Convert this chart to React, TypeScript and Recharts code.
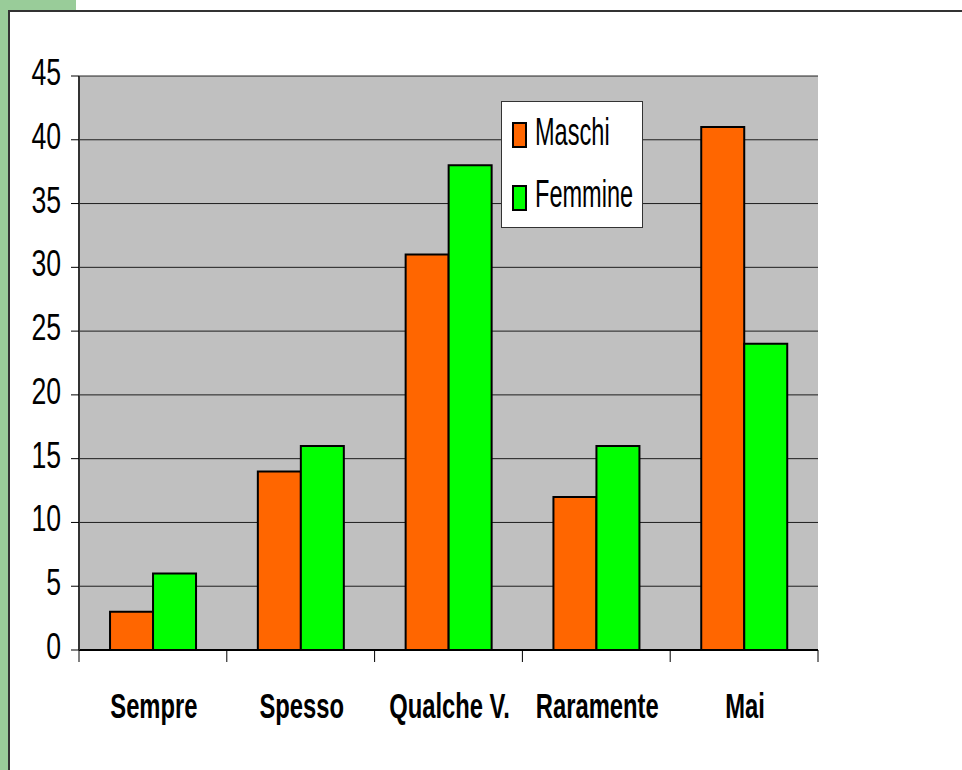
import React from 'react';
import { BarChart, Bar, XAxis, YAxis, CartesianGrid, Legend } from 'recharts';

// Survey answers, counts per group
const categories = ['Sempre', 'Spesso', 'Qualche V.', 'Raramente', 'Mai'];
const maschi = [3, 14, 31, 12, 41];
const femmine = [6, 16, 38, 16, 24];
const yTicks = [0, 5, 10, 15, 20, 25, 30, 35, 40, 45];
const seriesNames = ['Maschi', 'Femmine'];
const seriesColors = ['#FF6600', '#00FF00'];

const data = categories.map((name, i) => ({ name, maschi: maschi[i], femmine: femmine[i] }));

// no Arial Narrow available, so squeeze Liberation Sans horizontally
const FONT = '"Liberation Sans", Arial, sans-serif';

const W = 962;
const H = 770;
const margin = { top: 76, right: 144, left: 9, bottom: 60 };
const Y_AXIS_W = 70;
const X_AXIS_H = 60;
const bandWidth = (W - margin.left - margin.right - Y_AXIS_W) / categories.length;

const XTick = (props: any) => {
  const { x, y, payload, index } = props;
  return (
    <g>
      <line x1={x - bandWidth / 2} x2={x - bandWidth / 2} y1={y} y2={y + 12} stroke="#000" />
      {index === categories.length - 1 && (
        <line x1={x + bandWidth / 2} x2={x + bandWidth / 2} y1={y} y2={y + 12} stroke="#000" />
      )}
      <text
        transform={`translate(${x + 1},${y + 68}) scale(0.68,1)`}
        textAnchor="middle"
        fontFamily={FONT}
        fontWeight="bold"
        fontSize={35}
        fill="#000"
      >
        {payload.value}
      </text>
    </g>
  );
};

const YTick = (props: any) => {
  const { x, y, payload } = props;
  return (
    <text
      transform={`translate(${x},${y + 9}) scale(0.72,1)`}
      textAnchor="end"
      fontFamily={FONT}
      fontSize={37}
      fill="#000"
    >
      {payload.value}
    </text>
  );
};

const LegendBox = () => (
  <svg width={142} height={127} style={{ display: 'block' }}>
    <rect x={0.5} y={0.5} width={141} height={126} fill="#fff" stroke="#333" />
    {seriesNames.map((label, i) => (
      <g key={label}>
        <rect x={12} y={22 + i * 63} width={13} height={24} fill={seriesColors[i]} stroke="#000" strokeWidth={2} />
        <text transform={`translate(34,${44 + i * 62}) scale(0.62,1)`} fontFamily={FONT} fontSize={38} fill="#000">
          {label}
        </text>
      </g>
    ))}
  </svg>
);

export default function App() {
  return (
    <div style={{ position: 'absolute', left: 0, top: 0, width: W, height: H, background: '#fff', overflow: 'hidden' }}>
      {/* green page decoration and frame */}
      <div style={{ position: 'absolute', left: 0, top: 0, width: 8, height: H, background: '#99CC99' }} />
      <div style={{ position: 'absolute', left: 0, top: 0, width: 76, height: 10, background: '#99CC99' }} />
      <div style={{ position: 'absolute', left: 8, top: 10, width: W, height: H, borderLeft: '2px solid #333', borderTop: '2px solid #333' }} />
      <div style={{ position: 'absolute', left: 0, top: 0 }}>
        <BarChart width={W} height={H} data={data} margin={margin} barCategoryGap="21%" barGap={0}>
          <CartesianGrid fill="#C0C0C0" vertical={false} stroke="#000" strokeOpacity={0.85} />
          <XAxis
            dataKey="name"
            height={X_AXIS_H}
            axisLine={{ stroke: '#000', strokeWidth: 2 }}
            tickLine={false}
            tickSize={0}
            tickMargin={0}
            interval={0}
            tick={<XTick />}
          />
          <XAxis xAxisId="top" orientation="top" dataKey="name" height={0} tick={false} tickLine={false} axisLine={{ stroke: '#808080', strokeWidth: 3 }} />
          <YAxis
            domain={[0, 45]}
            ticks={yTicks}
            width={Y_AXIS_W}
            interval={0}
            axisLine={{ stroke: '#333', strokeWidth: 2 }}
            tickLine={{ stroke: '#000' }}
            tickSize={8}
            tickMargin={10}
            tick={<YTick />}
          />
          <YAxis yAxisId="right" orientation="right" width={0} domain={[0, 45]} tick={false} tickLine={false} axisLine={{ stroke: '#808080', strokeWidth: 3 }} />
          <Legend
            layout="vertical"
            align="center"
            verticalAlign="middle"
            content={<LegendBox />}
            wrapperStyle={{ left: 501, top: 101, width: 142, height: 127, position: 'absolute' }}
          />
          <Bar dataKey="maschi" name="Maschi" fill="#FF6600" stroke="#000" strokeWidth={2} isAnimationActive={false} />
          <Bar dataKey="femmine" name="Femmine" fill="#00FF00" stroke="#000" strokeWidth={2} isAnimationActive={false} />
        </BarChart>
      </div>
    </div>
  );
}
